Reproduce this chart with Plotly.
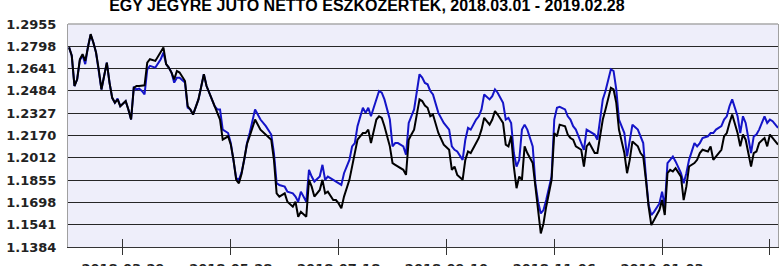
import plotly.graph_objects as go

title_text = "EGY JEGYRE JUTÓ NETTÓ ESZKÖZÉRTÉK, 2018.03.01 - 2019.02.28"

# trading-day index of each reading
day_index = [
    0, 1, 2, 3, 4, 5, 6, 7, 8, 9, 10, 11, 12, 13, 14, 15, 16, 17, 18, 19, 21, 22, 23, 24, 25,
    26, 27, 28, 29, 30, 32, 34, 35, 36, 37, 38, 39, 40, 41, 43, 44, 45, 46, 48, 49, 50, 51,
    53, 54, 55, 56, 57, 59, 60, 61, 62, 63, 64, 65, 66,
    67, 69, 71, 73, 75, 76, 77, 78, 80, 81, 83, 84, 85, 86, 88, 89, 90, 91, 93, 94, 95, 96,
    98, 99, 100, 101, 102, 104, 105, 106, 107, 109, 110, 111, 112, 114, 115, 116, 117, 119,
    120, 121, 122, 124, 125, 126, 127, 128, 130, 131, 132,
    133, 134, 135, 137, 139, 141, 142, 143, 144, 146, 147, 148, 149, 151, 152, 153, 154, 156,
    157, 158, 159, 161, 162, 163, 164, 165, 166, 167, 168, 169, 170, 172, 173, 174, 175, 176,
    177, 179, 180, 181, 182, 184, 185, 186, 187, 188, 190, 191, 192, 193, 195, 196, 197, 198,
    199, 200, 201, 202, 203, 204, 206, 207, 208, 209, 211, 212, 213, 214, 215, 216, 217, 219,
    220, 221, 222, 223, 224, 225, 227, 228, 229, 230, 232, 233, 234, 235, 237, 238, 239, 240,
    242, 243, 244, 245, 246, 248, 249, 250, 251, 253, 254, 255, 256, 258, 259, 260, 261, 263,
]

fund_nav = [
    1.2790, 1.2731, 1.2518, 1.2565, 1.2707, 1.2742, 1.2695, 1.2801, 1.2884, 1.2825, 1.2754,
    1.2636, 1.2494, 1.2589, 1.2683, 1.2542, 1.2435, 1.2400, 1.2424, 1.2376, 1.2412, 1.2353,
    1.2282, 1.2506, 1.2518, 1.2518, 1.2523, 1.2523, 1.2683, 1.2707, 1.2695, 1.2754, 1.2790,
    1.2672, 1.2648, 1.2613, 1.2565, 1.2624, 1.2613, 1.2553, 1.2376, 1.2353, 1.2317, 1.2424,
    1.2518, 1.2601, 1.2518, 1.2424, 1.2376, 1.2329, 1.2282, 1.2140, 1.2164, 1.2105, 1.1998,
    1.1857, 1.1833, 1.1900, 1.2000, 1.2110,
    1.2164, 1.2282, 1.2211, 1.2176, 1.2140, 1.1998, 1.1762, 1.1739, 1.1762, 1.1703, 1.1668,
    1.1703, 1.1597, 1.1632, 1.1597, 1.1857, 1.1809, 1.1739, 1.1786, 1.1857, 1.1762, 1.1774,
    1.1715, 1.1715, 1.1691, 1.1656, 1.1739, 1.1857, 1.1951, 1.2046, 1.2140, 1.2187, 1.2187,
    1.2211, 1.2116, 1.2282, 1.2305, 1.2294, 1.2235, 1.2093, 1.1975, 1.1963, 1.1951, 1.1928,
    1.1892, 1.2140, 1.2176, 1.2211, 1.2424, 1.2412, 1.2380,
    1.2365, 1.2305, 1.2317, 1.2187, 1.2105, 1.2069, 1.1928, 1.1951, 1.1892, 1.1857, 1.1998,
    1.2057, 1.2046, 1.2116, 1.2152, 1.2211, 1.2294, 1.2246, 1.2282, 1.2341, 1.2317, 1.2258,
    1.2105, 1.2093, 1.2164, 1.1951, 1.1798, 1.1880, 1.1857, 1.2093, 1.2046, 1.1975, 1.1809,
    1.1668, 1.1479, 1.1550, 1.1668, 1.1857, 1.2187, 1.2164, 1.2246, 1.2235, 1.2176, 1.2152,
    1.2140, 1.2093, 1.2069, 1.1951, 1.2093, 1.2116, 1.2046, 1.2046, 1.2164, 1.2282,
    1.2353, 1.2424, 1.2506, 1.2494, 1.2400, 1.2211, 1.2046, 1.1904, 1.1998, 1.2128, 1.2093,
    1.2046, 1.2022, 1.1857, 1.1668, 1.1538, 1.1573, 1.1644, 1.1715, 1.1609, 1.1904, 1.1928,
    1.1916, 1.1939, 1.1880, 1.1715, 1.1809, 1.1951, 1.1975, 1.1998, 1.2046, 1.2069, 1.2057,
    1.2093, 1.1998, 1.2022, 1.2069, 1.2164, 1.2187, 1.2258, 1.2317, 1.2187, 1.2093, 1.2176,
    1.2140, 1.1951, 1.2046, 1.2057, 1.2116, 1.2152, 1.2093, 1.2176, 1.2152, 1.2105,
]

benchmark_nav = [
    1.2790, 1.2731, 1.2518, 1.2565, 1.2700, 1.2735, 1.2672, 1.2795, 1.2880, 1.2825, 1.2754,
    1.2636, 1.2494, 1.2589, 1.2683, 1.2542, 1.2435, 1.2400, 1.2430, 1.2376, 1.2412, 1.2353,
    1.2282, 1.2506, 1.2494, 1.2500, 1.2483, 1.2459, 1.2636, 1.2660, 1.2648, 1.2707, 1.2754,
    1.2672, 1.2648, 1.2613, 1.2542, 1.2577, 1.2577, 1.2542, 1.2365, 1.2353, 1.2317, 1.2424,
    1.2518, 1.2601, 1.2518, 1.2424, 1.2376, 1.2353, 1.2353, 1.2211, 1.2187, 1.2116, 1.1998,
    1.1869, 1.1857, 1.1910, 1.2000, 1.2116,
    1.2187, 1.2353, 1.2282, 1.2235, 1.2176, 1.2046, 1.1833, 1.1821, 1.1809, 1.1774, 1.1762,
    1.1739, 1.1703, 1.1774, 1.1703, 1.1928, 1.1880, 1.1845, 1.1880, 1.1963, 1.1857, 1.1880,
    1.1857, 1.1845, 1.1833, 1.1821, 1.1904, 1.1998, 1.2093, 1.2116, 1.2235, 1.2365, 1.2329,
    1.2365, 1.2305, 1.2424, 1.2483, 1.2471, 1.2424, 1.2282, 1.2093, 1.2116, 1.2116, 1.2093,
    1.2034, 1.2258, 1.2305, 1.2353, 1.2601, 1.2577, 1.2540,
    1.2530, 1.2483, 1.2459, 1.2329, 1.2258, 1.2211, 1.2093, 1.2069, 1.2057, 1.1998, 1.2140,
    1.2223, 1.2211, 1.2282, 1.2305, 1.2353, 1.2459, 1.2424, 1.2447, 1.2494, 1.2471, 1.2400,
    1.2282, 1.2294, 1.2258, 1.2046, 1.1951, 1.1998, 1.2211, 1.2246, 1.2211, 1.2093, 1.1833,
    1.1703, 1.1620, 1.1644, 1.1715, 1.1880, 1.2282, 1.2365, 1.2372, 1.2353, 1.2305, 1.2282,
    1.2235, 1.2211, 1.2116, 1.2069, 1.2211, 1.2199, 1.2176, 1.2140, 1.2305, 1.2424,
    1.2483, 1.2565, 1.2636, 1.2624, 1.2494, 1.2282, 1.2187, 1.2022, 1.2140, 1.2246, 1.2211,
    1.2164, 1.2116, 1.1880, 1.1680, 1.1609, 1.1632, 1.1691, 1.1774, 1.1668, 1.1975, 1.1998,
    1.2022, 1.1987, 1.1904, 1.1833, 1.1904, 1.1998, 1.2116, 1.2093, 1.2116, 1.2152, 1.2164,
    1.2187, 1.2187, 1.2211, 1.2235, 1.2282, 1.2305, 1.2376, 1.2424, 1.2305, 1.2187, 1.2305,
    1.2258, 1.2046, 1.2164, 1.2176, 1.2211, 1.2305, 1.2258, 1.2282, 1.2270, 1.2223,
]

y_ticks = [1.1384, 1.1541, 1.1698, 1.1855, 1.2012, 1.2170, 1.2327, 1.2484, 1.2641, 1.2798, 1.2955]
y_tick_labels = ["1.1384", "1.1541", "1.1698", "1.1855", "1.2012", "1.2170",
                 "1.2327", "1.2484", "1.2641", "1.2798", "1.2955"]

x_ticks = [20, 60, 100, 140, 180, 220, 260]
x_tick_labels = ["2018-03-29", "2018-05-28", "2018-07-18", "2018-09-10",
                 "2018-11-06", "2019-01-03", "2019-02-28"]

tick_font = dict(family="DejaVu Sans", size=13, color="#222222", weight="bold")

fig = go.Figure()
fig.add_trace(go.Scatter(x=day_index, y=benchmark_nav, mode="lines",
                         line=dict(color="#1414C8", width=2), xaxis="x", yaxis="y",
                         showlegend=False, hoverinfo="skip"))
fig.add_trace(go.Scatter(x=day_index, y=fund_nav, mode="lines",
                         line=dict(color="#000000", width=2), xaxis="x2", yaxis="y",
                         showlegend=False, hoverinfo="skip"))

fig.update_layout(
    width=779, height=266,
    margin=dict(l=68, r=1, t=24, b=19, autoexpand=False),
    paper_bgcolor="white",
    plot_bgcolor="#EEEEFA",
    title=dict(text=title_text, x=0.471, xanchor="center", xref="container",
               y=0.957, yanchor="bottom", yref="container",
               font=dict(family="Liberation Sans", size=16, color="#000000", weight="bold")),
    xaxis=dict(range=[-0.4, 263.0], tickmode="array", tickvals=x_ticks, ticktext=x_tick_labels,
               ticks="outside", ticklen=7, tickwidth=1, tickcolor="#333333",
               ticklabelstandoff=2,
               showgrid=False, zeroline=False, showline=True, linecolor="#333333", linewidth=1,
               tickfont=tick_font, automargin=False),
    xaxis2=dict(matches="x", overlaying="x", side="bottom", tickmode="array", tickvals=x_ticks,
                ticks="inside", ticklen=8, tickwidth=1, tickcolor="#333333",
                showticklabels=False, showgrid=False, zeroline=False, showline=False,
                automargin=False),
    yaxis=dict(range=[1.1384, 1.2955], tickmode="array", tickvals=y_ticks, ticktext=y_tick_labels,
               ticks="outside", ticklen=8, tickcolor="rgba(0,0,0,0)",
               showgrid=True, gridcolor="#262626", gridwidth=1, zeroline=False,
               showline=True, linecolor="#A0A0A0", linewidth=1, mirror=True,
               tickfont=tick_font, automargin=False),
    shapes=[dict(type="line", xref="paper", yref="paper", x0=0, x1=1, y0=1, y1=1,
                 line=dict(color="#A8A8A8", width=1.5), layer="above")],
)

fig.write_html("out.html", config={"displayModeBar": False},
               post_script="document.body.style.margin='0';")
